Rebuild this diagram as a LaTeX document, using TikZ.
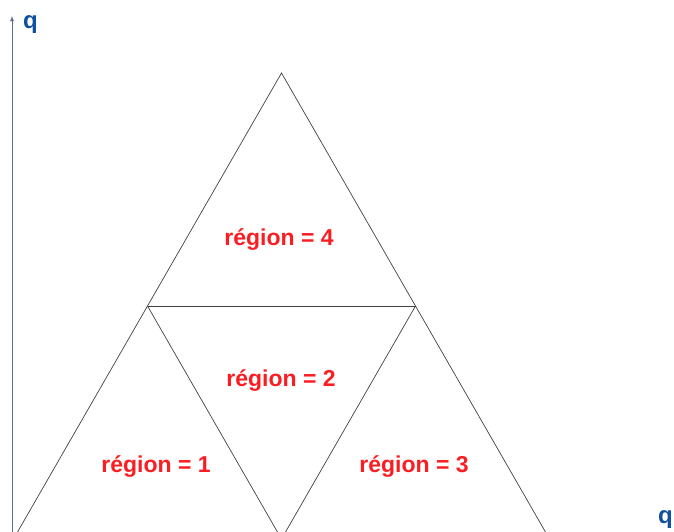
\documentclass[tikz,border=0pt]{standalone}
\usepackage{fontspec}
\setmainfont{Liberation Sans}
\usepackage{xcolor}
\usetikzlibrary{positioning}
\definecolor{regred}{RGB}{250,30,35}
\definecolor{axblue}{RGB}{15,80,160}
\definecolor{axline}{RGB}{90,105,140}
\tikzset{
  edge/.style={
    draw = black!75,
    line width=0.7pt
  },
  region/.style={
    text = regred,
    font = \fontsize{23}{27}\selectfont\bfseries,
    inner sep=0pt
  },
  axlabel/.style={
    text = axblue,
    font = \fontsize{24}{28}\selectfont\bfseries,
    inner sep=0pt
  }
}
\begin{document}
\begin{tikzpicture}[x=1pt,y=-1pt]
    \useasboundingbox (0,0) rectangle (674,532);
    \clip (0,0) rectangle (674,532);
    \def\dx{134}
    \def\dy{233}
        % vertices
        \coordinate (top) at (281.5,73);
        \coordinate (ml) at (281.5-\dx,73+\dy);
        \coordinate (mr) at (281.5+\dx,73+\dy);
        \coordinate (bl) at (281.5-2*\dx,73+2*\dy);
        \coordinate (bm) at (281.5,73+2*\dy);
        \coordinate (br) at (281.5+2*\dx,73+2*\dy);
        \draw[edge] (bl) -- (top) -- (br);
        \draw[edge] (ml) -- (mr);
        \draw[edge] (ml) -- (bm) -- (mr);
        % axis
        \coordinate (o) at (12,540);
        \coordinate (qtop) at (12,16);
        \draw[axline, line width=0.8pt, ->, >=latex] (o) -- (qtop);
        \node[axlabel, anchor=west] (q1) at (23,25) {q};
        \node[axlabel, anchor=east] (q2) at (673,520) {q};
        % regions
        \node[region] (r4) at (279,240) {région = 4};
        \node[region] (r2) at (281,380) {région = 2};
        \node[region] (r1) at (156,466) {région = 1};
        \node[region] (r3) at (414,466) {région = 3};
\end{tikzpicture}
\end{document}
